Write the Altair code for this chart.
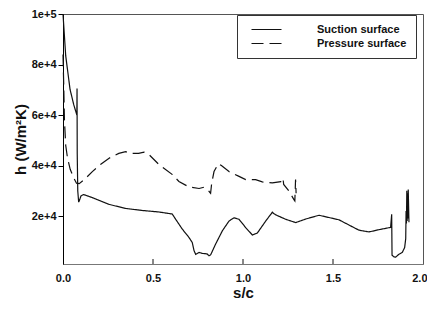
import altair as alt
import pandas as pd

# ---- data ----
suction_s = [0.0, 0.015, 0.039, 0.06, 0.077, 0.078, 0.079, 0.082, 0.087, 0.093, 0.1, 0.115,
             0.163, 0.256, 0.348, 0.44, 0.533, 0.607, 0.626, 0.663, 0.7, 0.718, 0.728, 0.737,
             0.756, 0.774, 0.8, 0.811, 0.82, 0.848, 0.885, 0.922, 0.95, 0.978, 1.015, 1.052,
             1.08, 1.126, 1.163, 1.17, 1.181, 1.237, 1.293, 1.348, 1.422, 1.533, 1.644, 1.7,
             1.756, 1.82, 1.826, 1.828, 1.839, 1.848, 1.867, 1.885, 1.898, 1.904, 1.906,
             1.908, 1.910, 1.912, 1.914, 1.916, 1.918, 1.922]
suction_h = [100000, 83500, 70200, 64000, 60000, 70500, 45000, 30000, 25500, 26500, 28000, 28500,
             27300, 24600, 23000, 22200, 21600, 20800, 18700, 14800, 11500, 9500, 6300, 4800,
             5600, 5200, 5000, 4300, 4600, 8900, 14100, 18000, 19300, 18700, 15400, 12500,
             13300, 18000, 21500, 21000, 20500, 18700, 17400, 18800, 20300, 18500, 14400, 13700,
             14600, 15500, 20700, 4500, 3800, 3700, 4900, 5600, 7500, 11000, 22000,
             17000, 30000, 18000, 29000, 19000, 30500, 17500]

pressure_s = [0.0, 0.004, 0.008, 0.015, 0.025, 0.04, 0.06, 0.075, 0.09, 0.12, 0.163, 0.21,
              0.256, 0.31, 0.348, 0.376, 0.42, 0.45, 0.478, 0.533, 0.606, 0.644, 0.7, 0.756,
              0.783, 0.811, 0.82, 0.826, 0.839, 0.863, 0.88, 0.922, 0.978, 1.015, 1.07, 1.107,
              1.163, 1.21, 1.222, 1.226, 1.256, 1.283, 1.288, 1.292, 1.295]
pressure_h = [84000, 72000, 58000, 48000, 43000, 38500, 35000, 33000, 32800, 34500, 37600, 40500,
              42900, 44800, 45500, 44800, 44800, 45300, 44300, 40400, 36500, 33700, 31500, 30900,
              31400, 29800, 29000, 33000, 37600, 40700, 40000, 37600, 35700, 34400, 34400, 33500,
              33100, 33600, 35000, 32500, 29800, 26500, 26000, 34500, 29000]

series_names = ["Suction surface", "Pressure surface"]
x_ticks = [0.0, 0.5, 1.0, 1.5, 2.0]
y_ticks = [20000, 40000, 60000, 80000, 100000]
inner_ticks = [0.5, 1.0, 1.5]

rows = []
for i, (s, h) in enumerate(zip(suction_s, suction_h)):
    rows.append({"s": s, "h": h, "series": series_names[0], "i": i})
for i, (s, h) in enumerate(zip(pressure_s, pressure_h)):
    rows.append({"s": s, "h": h, "series": series_names[1], "i": i})
df = pd.DataFrame(rows)
tick_df = pd.DataFrame({"s": inner_ticks})

FONT = "Liberation Sans"

xscale = alt.Scale(domain=[0, 2], nice=False, zero=False, padding=0)
yscale = alt.Scale(domain=[1000, 100000], nice=False, zero=False, padding=0)

last_label = "datum.value >= 2"

lines = alt.Chart(df).mark_line(strokeWidth=1.2, color="#111").encode(
    x=alt.X("s:Q", scale=xscale,
            axis=alt.Axis(title="s/c", values=x_ticks, format=".1f", ticks=False,
                          labelFlush=False,
                          labelAlign={"condition": {"test": last_label, "value": "right"},
                                      "value": "center"},
                          labelOffset={"condition": {"test": last_label, "value": 4},
                                       "value": 0},
                          labelPadding=8, titlePadding=2, grid=False,
                          domainColor="#777")),
    y=alt.Y("h:Q", scale=yscale,
            axis=alt.Axis(title="h (W/m²K)", values=y_ticks,
                          labelExpr="format(datum.value, '.0e')", labelFlush=False,
                          tickSize=5, labelPadding=2, titlePadding=3, grid=False,
                          domainColor="#000", tickColor="#000")),
    strokeDash=alt.StrokeDash("series:N",
        scale=alt.Scale(domain=series_names, range=[[1, 0], [12, 6]]),
        legend=alt.Legend(title=None, orient="none", legendX=174, legendY=1,
                          symbolType="M0,0H10", symbolSize=36,
                          symbolStrokeColor="#111", symbolStrokeWidth=1.2,
                          labelOffset=60, labelFont=FONT, labelFontSize=11,
                          labelFontWeight="bold", labelColor="#111",
                          padding=9, rowPadding=2, strokeColor="#333",
                          fillColor="white", cornerRadius=0)),
    detail="series:N",
    order="i:Q",
)

ticks = alt.Chart(tick_df).mark_rule(color="#111", strokeWidth=1).encode(
    x=alt.X("s:Q", scale=xscale),
    y=alt.value(250),
    y2=alt.value(245),
)

chart = alt.layer(lines, ticks).properties(
    width=360, height=250,
    autosize=alt.AutoSizeParams(type="none"),
    padding={"left": 55, "top": 6, "right": 4, "bottom": 38},
).configure_view(
    stroke="#555", strokeWidth=1
).configure_axis(
    labelFont=FONT, labelFontSize=11, labelFontWeight="bold", labelColor="#111",
    titleFont=FONT, titleFontSize=15, titleFontWeight="bold", titleColor="#111",
)

chart.save("out.html", embed_options={"renderer": "svg", "actions": False})
